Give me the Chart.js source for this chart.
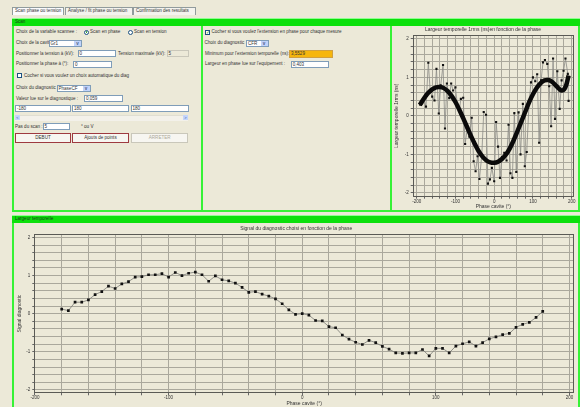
<!DOCTYPE html>
<html>
<head>
<meta charset="utf-8">
<script src="https://cdn.jsdelivr.net/npm/chart.js@4.4.1/dist/chart.umd.min.js"></script>
<style>
body{margin:0;width:580px;height:407px;overflow:hidden;background:#ece9d8;position:relative;font-family:"Liberation Sans",Arial,sans-serif;font-size:4.55px;color:#333}
.a{position:absolute;white-space:nowrap;line-height:6px}
.g{position:absolute;background:#36f236}
.band{position:absolute;left:12px;width:568px;height:8px;background:#0ce00c;border-top:1px solid #90ff90;box-sizing:border-box;color:#1b3a1b;padding-left:3px;line-height:6px}
.in{position:absolute;background:#fff;border:1px solid #7f9db9;box-sizing:border-box;line-height:5px;padding-left:1px;white-space:nowrap}
.sel{position:absolute;background:#fff;border:1px solid #7f9db9;box-sizing:border-box;line-height:5px;padding-left:1px;white-space:nowrap}
.sel span{position:absolute;right:0;top:0;bottom:0;width:7px;background:#c1d3fb;color:#4d6185;text-align:center;font-weight:bold;line-height:5px}
.rad{position:absolute;width:5px;height:5px;border:1px solid #1c5180;border-radius:50%;background:#fff;box-sizing:border-box}
.chk{position:absolute;width:5px;height:5px;border:1px solid #1c5180;background:#fff;box-sizing:border-box;color:#21a121;font-size:4.5px;line-height:3px;text-align:center}
.btn{position:absolute;border:1px solid #9e3a40;background:#f7f6f1;box-sizing:border-box;text-align:center;line-height:7px}
.tab{position:absolute;top:7px;height:8px;border:1px solid #919b9c;border-bottom:none;background:#f4f3ee;box-sizing:border-box;line-height:6px;padding-left:2px;white-space:nowrap}
canvas{position:absolute}
</style>
</head>
<body>
<!-- onglets -->
<div class="tab" style="left:12px;width:52px;background:#fcfcfe">Scan phase ou tension</div>
<div class="tab" style="left:65px;width:68px">Analyse / fit phase ou tension</div>
<div class="tab" style="left:133px;width:63px">Confirmation des resultats</div>

<div class="band" style="top:18px">Scan</div>
<div class="band" style="top:215px">Largeur temporelle</div>

<!-- panneau gauche -->
<div class="a" style="left:16px;top:29px">Choix de la variable scannee :</div>
<div class="rad" style="left:84px;top:29.5px"><div style="position:absolute;left:0.8px;top:0.8px;width:1.5px;height:1.5px;border-radius:50%;background:#21a121"></div></div>
<div class="a" style="left:90px;top:29px">Scan en phase</div>
<div class="rad" style="left:128px;top:29.5px"></div>
<div class="a" style="left:134px;top:29px">Scan en tension</div>

<div class="a" style="left:16px;top:40px">Choix de la cavite</div>
<div class="sel" style="left:48.5px;top:39.5px;width:33.5px;height:7px">Gr1<span>v</span></div>

<div class="a" style="left:16px;top:50.5px">Positionner la tension à (kV):</div>
<div class="in" style="left:77.5px;top:50px;width:38px;height:7px">0</div>
<div class="a" style="left:118px;top:50.5px">Tension maximale (kV):</div>
<div class="in" style="left:166.5px;top:50px;width:22px;height:7px;background:#ece9d8;border-color:#c9c7ba">5</div>

<div class="a" style="left:16px;top:61px">Positionner la phase à (°):</div>
<div class="in" style="left:73px;top:60.5px;width:39px;height:7px">0</div>

<div class="chk" style="left:17px;top:73px"></div>
<div class="a" style="left:24px;top:72.5px">Cocher si vous voulez un choix automatique du diag</div>

<div class="a" style="left:16px;top:85px">Choix du diagnostic</div>
<div class="sel" style="left:56.5px;top:84.5px;width:34px;height:7px">PhaseCF<span>v</span></div>

<div class="a" style="left:16px;top:96px">Valeur lue sur le diagnostique :</div>
<div class="in" style="left:84px;top:95.3px;width:39px;height:7px">0,059</div>

<div class="in" style="left:15px;top:105px;width:56px;height:7px">-180</div>
<div class="in" style="left:72px;top:105px;width:57px;height:7px">180</div>
<div class="in" style="left:130.5px;top:105px;width:58px;height:7px">180</div>

<div style="position:absolute;left:15px;top:115px;width:173px;height:5px;background:#f3f1ea;border-top:1px solid #e0ded2"></div>
<div style="position:absolute;left:15px;top:115px;width:5px;height:5px;background:#c4d5fb;color:#3355aa;font-size:4px;line-height:5px;text-align:center">&lt;</div>
<div style="position:absolute;left:183px;top:115px;width:5px;height:5px;background:#c4d5fb;color:#3355aa;font-size:4px;line-height:5px;text-align:center">&gt;</div>

<div class="a" style="left:15px;top:124px">Pas du scan :</div>
<div class="in" style="left:42.5px;top:123.3px;width:27.5px;height:7px">5</div>
<div class="a" style="left:81px;top:124px">° ou V</div>

<div class="btn" style="left:15px;top:133.3px;width:56px;height:9.3px">DEBUT</div>
<div class="btn" style="left:71.7px;top:133.3px;width:57.6px;height:9.3px">Ajouts de points</div>
<div class="btn" style="left:131px;top:133.3px;width:57.3px;height:9.3px;border-color:#c9c7ba;color:#aca899">ARRETER</div>

<!-- panneau milieu -->
<div class="chk" style="left:205px;top:29.5px">&#10003;</div>
<div class="a" style="left:211.5px;top:29px">Cocher si vous voulez l'extension en phase pour chaque mesure</div>
<div class="a" style="left:204.5px;top:40px">Choix du diagnostic</div>
<div class="sel" style="left:246px;top:39.5px;width:22.5px;height:7px">CFR<span>v</span></div>
<div class="a" style="left:205px;top:50.5px">Minimum pour l'extension temporelle (ns):</div>
<div class="in" style="left:289px;top:49.5px;width:43.5px;height:8px;background:#f6b60d;border-color:#d0a040;line-height:6px">3,5529</div>
<div class="a" style="left:205px;top:61px">Largeur en phase lue sur l'equipement :</div>
<div class="in" style="left:290.7px;top:60.5px;width:38.6px;height:7.8px;line-height:5.8px">0,403</div>

<canvas id="rmsChart" width="186" height="184" style="left:392px;top:26px"></canvas>
<canvas id="diagChart" width="563" height="183" style="left:15px;top:224px"></canvas>

<!-- cadres verts -->
<div class="g" style="left:12px;top:26px;width:2px;height:185px"></div>
<div class="g" style="left:201px;top:26px;width:2px;height:185px"></div>
<div class="g" style="left:389.5px;top:26px;width:2px;height:185px"></div>
<div class="g" style="left:578px;top:26px;width:2px;height:185px"></div>
<div class="g" style="left:12px;top:209.5px;width:568px;height:2px"></div>
<div class="g" style="left:12px;top:223px;width:2px;height:184px"></div>
<div class="g" style="left:578px;top:223px;width:2px;height:184px"></div>

<script>
// largeur temporelle 1rms mesurée (ns) selon la phase
const rmsPhase = [-191, -186, -181, -176, -170, -165, -160, -154, -149, -143, -138, -132, -127, -122, -116, -111,
    -106, -100, -95, -90, -86, -80, -75, -69, -64, -58, -53, -48, -43, -38, -32, -27, -21, -16, -11, -6,
    0, 5, 10, 15, 20, 26, 32, 37, 42, 47, 52, 57, 63, 68, 74, 79, 84, 90, 95, 100, 106, 111, 116, 121,
    126, 131, 137, 142, 147, 152, 157, 163, 169, 174, 179, 184, 190, 192];
const rmsWidth = [0.29, 0.33, 0.44, 0.24, 1.38, 0.62, 0.50, 0.40, 1.22, 0.06, 0.79, 1.32, -0.33, 0.84, 0.46, 0.84,
    0.66, 0.74, 0.28, 0.14, 0.44, 0.47, -0.73, -0.30, -0.54, -0.05, -1.18, -1.44, -1.05, -1.64, -1.02, 0.10, 0.03, -1.76, -1.65, -1.35,
    -1.70, -0.16, -0.80, -1.61, -1.07, -0.96, -1.16, -0.23, -1.49, -1.61, 0.07, -1.46, 0.09, -1.00, 0.31, -1.31, -0.94, 0.33, 0.87, 1.00, 0.90, 1.08, -0.70, 0.92,
    1.39, 1.45, 1.35, 0.77, -0.27, 1.49, -0.08, 1.16, 0.18, 0.92, 1.17, 1.49, 1.09, 0.39];

// courbe d'ajustement
const fitPhase = [-192, -180, -170, -160, -150, -140, -130, -120, -110, -100, -90, -80, -70, -60, -50, -40, -30, -20, -10,
    0, 10, 20, 30, 40, 50, 60, 70, 80, 90, 100, 110, 120, 130, 140, 150, 160, 170, 175, 180, 186, 192];
const fitWidth = [0.28, 0.47, 0.60, 0.69, 0.74, 0.75, 0.72, 0.64, 0.52, 0.36, 0.16, -0.06, -0.29, -0.52, -0.73, -0.92, -1.06, -1.16, -1.21,
    -1.22, -1.19, -1.12, -1.01, -0.85, -0.64, -0.40, -0.15, 0.10, 0.35, 0.56, 0.73, 0.85, 0.92, 0.93, 0.88, 0.78, 0.68, 0.66, 0.68, 0.80, 1.05];

// signal du diagnostic selon la phase
const scanPhase = [-180, -175, -170, -165, -160, -155, -150, -145, -140, -135, -130, -125, -120, -115, -110, -105,
    -100, -95, -90, -85, -80, -75, -70, -65, -60, -55, -50, -45, -40, -35, -30, -25, -20, -15, -10, -5,
    0, 5, 10, 15, 20, 25, 30, 35, 40, 45, 50, 55, 60, 65, 70, 75, 80, 85, 90, 95,
    100, 105, 110, 115, 120, 125, 130, 135, 140, 145, 150, 155, 160, 165, 170, 175, 180];
const signalDiag = [0.12, 0.08, 0.30, 0.30, 0.36, 0.50, 0.58, 0.72, 0.66, 0.78, 0.84, 0.96, 0.97, 1.02, 1.02, 1.05,
    0.96, 1.08, 1.00, 1.06, 1.09, 1.02, 0.85, 0.99, 0.89, 0.86, 0.80, 0.69, 0.56, 0.58, 0.51, 0.46, 0.39, 0.26, 0.10, -0.02,
    0.00, -0.04, -0.18, -0.19, -0.34, -0.37, -0.56, -0.67, -0.75, -0.81, -0.70, -0.76, -0.86, -0.93, -1.03, -1.04, -1.03, -1.03, -0.94, -1.11,
    -0.91, -0.91, -1.03, -0.85, -0.79, -0.74, -0.85, -0.76, -0.66, -0.61, -0.55, -0.52, -0.36, -0.28, -0.23, -0.10, 0.06];

const phaseLabels = [-200, -100, 0, 100, 200];
const valueLabels = [-2, -1, 0, 1, 2];

// grille fine : 20° et 0.2
const phaseGrid = [], valueGrid = [];
for (let v = -200; v <= 200; v += 20) phaseGrid.push(v);
for (let i = -10; i <= 10; i++) valueGrid.push(Math.round(i * 2) / 10);

Chart.defaults.font.family = '"Liberation Sans", Arial, sans-serif';
Chart.defaults.font.size = 5;
Chart.defaults.color = '#333';

const frame = {
    id: 'frame',
    afterDatasetsDraw(chart) {
        const a = chart.chartArea, c = chart.ctx;
        c.save();
        c.strokeStyle = '#5a5a55';
        c.lineWidth = 1;
        c.strokeRect(Math.round(a.left) + 0.5, Math.round(a.top) + 0.5,
            Math.round(a.right - a.left) - 1, Math.round(a.bottom - a.top) - 1);
        c.restore();
    }
};

function makeScales(xMin, xMax, yMin, yMax, yTitle, yWidth, xHeight) {
    const grid = {color: '#aaa89c', lineWidth: 1, tickLength: 2, tickColor: '#666'};
    return {
        x: {
            type: 'linear', min: xMin, max: xMax,
            afterBuildTicks: s => { s.ticks = phaseGrid.map(v => ({value: v})); },
            afterFit: s => { s.height = xHeight; },
            grid: grid,
            border: {display: false},
            ticks: {autoSkip: false, maxRotation: 0, padding: 0, font: {size: 4.5},
                callback: v => phaseLabels.includes(v) ? String(v) : ''},
            title: {display: true, text: 'Phase cavite (°)', padding: {top: 0, bottom: 0}, font: {size: 5}}
        },
        y: {
            type: 'linear', min: yMin, max: yMax,
            afterBuildTicks: s => { s.ticks = valueGrid.map(v => ({value: v})); },
            afterFit: s => { s.width = yWidth; },
            grid: grid,
            border: {display: false},
            ticks: {autoSkip: false, padding: 2, font: {size: 4.5},
                callback: v => valueLabels.includes(v) ? String(v) : ''},
            title: {display: true, text: yTitle, padding: {top: 2, bottom: 0}, font: {size: 5}}
        }
    };
}

new Chart(document.getElementById('rmsChart'), {
    type: 'line',
    data: {
        datasets: [
            {
                data: fitPhase.map((x, i) => ({x: x, y: fitWidth[i]})),
                borderColor: '#0a0a0a',
                borderWidth: 4.5,
                pointRadius: 0,
                tension: 0.35,
                order: 0
            },
            {
                data: rmsPhase.map((x, i) => ({x: x, y: rmsWidth[i]})),
                borderColor: '#8a8a85',
                borderWidth: 0.8,
                pointStyle: 'rect',
                pointRadius: 1.5,
                pointBorderWidth: 0,
                pointBackgroundColor: '#111',
                tension: 0,
                order: 1
            }
        ]
    },
    options: {
        responsive: false,
        animation: false,
        layout: {padding: {right: 4}},
        plugins: {
            legend: {display: false},
            tooltip: {enabled: false},
            title: {display: true, text: 'Largeur temporelle 1rms (ns)en fonction de la phase',
                padding: {top: 1, bottom: 2}, font: {size: 5, weight: 'normal'}, color: '#333'}
        },
        scales: makeScales(-210.3, 206, -2.1, 2.1, 'Largeur temporelle 1rms (ns)', 20.7, 13.3)
    },
    plugins: [frame]
});

new Chart(document.getElementById('diagChart'), {
    type: 'line',
    data: {
        datasets: [{
            data: scanPhase.map((x, i) => ({x: x, y: signalDiag[i]})),
            borderColor: '#7a7a75',
            borderWidth: 0.8,
            pointStyle: 'rect',
            pointRadius: 1.9,
            pointBorderWidth: 0,
            pointBackgroundColor: '#111',
            tension: 0
        }]
    },
    options: {
        responsive: false,
        animation: false,
        layout: {padding: {right: 0.7}},
        plugins: {
            legend: {display: false},
            tooltip: {enabled: false},
            title: {display: true, text: 'Signal du diagnostic choisi en fonction de la phase',
                padding: {top: 2, bottom: 2}, font: {size: 5, weight: 'normal'}, color: '#333'}
        },
        scales: makeScales(-200.5, 203.4, -2.09, 2.09, 'Signal diagnostic', 19.3, 13.7)
    },
    plugins: [frame]
});
</script>
</body>
</html>
